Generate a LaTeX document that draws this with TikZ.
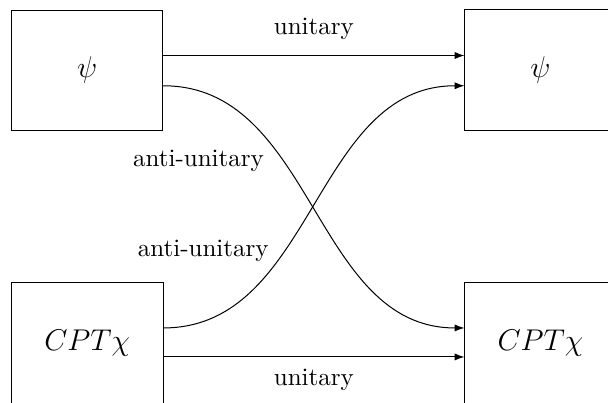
\documentclass[tikz,border=0pt]{standalone}
\usetikzlibrary{arrows.meta}
\begin{document}
\begin{tikzpicture}[x=0.4pt,y=-0.4pt,
  box/.style={draw, minimum width=60.4pt, minimum height=48pt, inner sep=0pt, font=\large},
  openbox/.style={minimum width=60.4pt, minimum height=48pt, inner sep=0pt, font=\large},
  arr/.style={-{Latex[length=4pt,width=2.9pt]}}]
\useasboundingbox (0,0) rectangle (608,402);
\node[box] (A) at (87.2,70) {$\psi$};
\node[openbox] (B) at (540.5,70) {$\psi$};
\node[openbox] (C) at (87.2,342.7) {$CPT\chi$};
\node[openbox] (D) at (540.5,342.7) {$CPT\chi$};
\draw ([xshift=8pt]B.north east) -- (B.north west) -- (B.south west) -- ([xshift=8pt]B.south east);
\draw ([yshift=-8pt]C.south west) -- (C.north west) -- (C.north east) -- ([yshift=-8pt]C.south east);
\draw ([yshift=-8pt]D.south west) -- (D.north west) -- ([xshift=8pt]D.north east);
\draw[arr] ([yshift=5.8pt]A.east) -- node[above=3pt]{unitary} ([yshift=5.8pt]B.west);
\draw[arr] ([yshift=-5.7pt]C.east) -- node[below=1.4pt]{unitary} ([yshift=-5.7pt]D.west);
\draw[arr] ([yshift=-6.3pt]A.east) to[out=0,in=180] node[pos=0.355,left=3pt,yshift=-2pt]{anti-unitary} ([yshift=5.9pt]D.west);
\draw[arr] ([yshift=5.9pt]C.east) to[out=0,in=180] node[pos=0.385,left=4pt,yshift=-1.2pt]{anti-unitary} ([yshift=-6.3pt]B.west);
\end{tikzpicture}
\end{document}
